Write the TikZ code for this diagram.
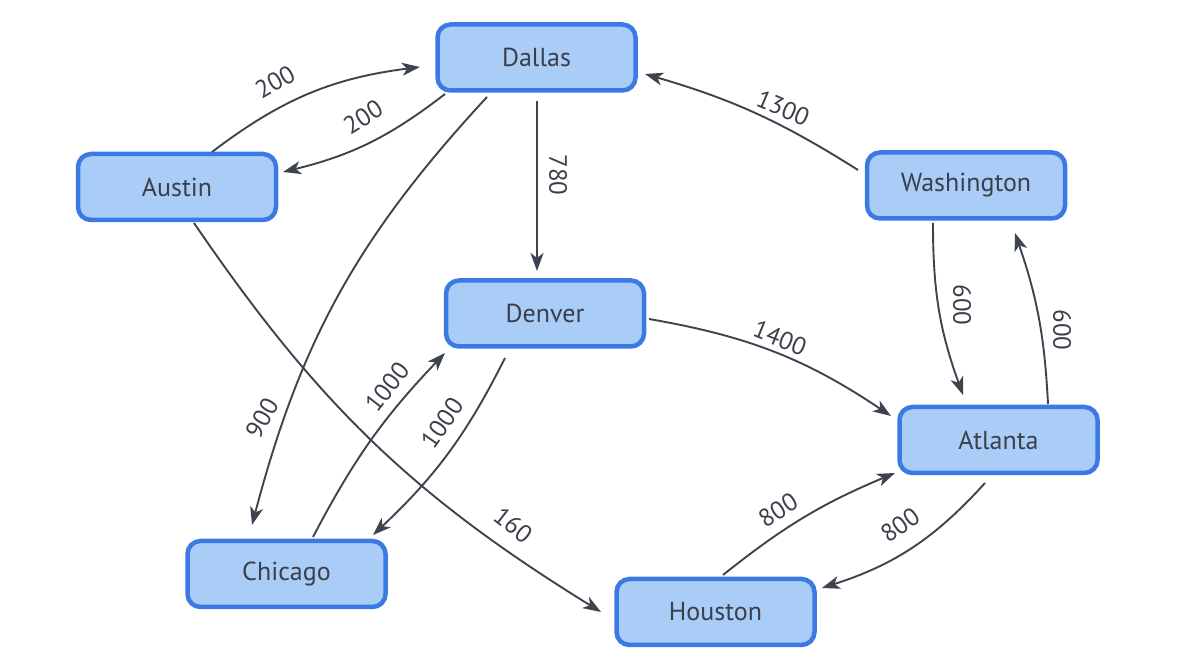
\documentclass[tikz,border=0pt]{standalone}
\usepackage{fontspec}
\setmainfont{PT Sans}
\usetikzlibrary{arrows.meta}
\definecolor{boxfill}{HTML}{A9CDF7}
\definecolor{boxline}{HTML}{3B79E3}
\definecolor{txt}{HTML}{3C3F4A}
\definecolor{edge}{HTML}{3E4350}
\tikzset{
  city/.style={draw=boxline, fill=boxfill, line width=4.5pt, rounded corners=13pt,
    minimum width=198pt, minimum height=66pt, inner sep=0pt, text=txt,
    font=\fontsize{26}{30}\selectfont},
  conn/.style={draw=edge, line width=1.9pt, -{Stealth[length=18pt,width=13pt,inset=5pt]}},
  lbl/.style={text=txt, inner sep=0pt, font=\fontsize{25}{30}\selectfont}
}
\begin{document}
\begin{tikzpicture}[x=1pt,y=1pt]
\useasboundingbox (0,0) rectangle (1178,666);
\node[city] (Dallas) at (536.5,608.5) {Dallas};
\node[city] (Austin) at (177,479) {Austin};
\node[city] (Washington) at (966,480.5) {Washington};
\node[city] (Denver) at (545,352.5) {Denver};
\node[city] (Atlanta) at (998.5,226) {Atlanta};
\node[city] (Chicago) at (286.5,92) {Chicago};
\node[city] (Houston) at (715.5,54) {Houston};

\draw[conn] ([shift={(35,35)}]Austin.center) to[bend left=15] ([shift={(-116.5,-9.5)}]Dallas.center);
\draw[conn] ([shift={(-91.5,-36.5)}]Dallas.center) to[bend left=12] ([shift={(106,15)}]Austin.center);
\draw[conn] ([shift={(-49.5,-39.5)}]Dallas.center) to[bend right=14] ([shift={(-34.5,49)}]Chicago.center);
\draw[conn] ([shift={(0.5,-43.5)}]Dallas.center) -- ([shift={(-8,42.5)}]Denver.center);
\draw[conn] ([shift={(-108,15.5)}]Washington.center) to[bend right=8] ([shift={(108.5,-16.5)}]Dallas.center);
\draw[conn] ([shift={(-33,-37.5)}]Washington.center) to[bend right=10] ([shift={(-35.5,45)}]Atlanta.center);
\draw[conn] ([shift={(49.5,36)}]Atlanta.center) to[bend right=8] ([shift={(49,-47.5)}]Washington.center);
\draw[conn] ([shift={(104,-5.5)}]Denver.center) to[bend left=12] ([shift={(-107.5,24)}]Atlanta.center);
\draw[conn] ([shift={(26.5,37)}]Chicago.center) to[bend left=8] ([shift={(-100,-39.5)}]Denver.center);
\draw[conn] ([shift={(-40,-44.5)}]Denver.center) to[bend left=10] ([shift={(86.5,39)}]Chicago.center);
\draw[conn] ([shift={(17,-36)}]Austin.center) to[bend right=12] ([shift={(-114.5,0)}]Houston.center);
\draw[conn] ([shift={(7.5,37)}]Houston.center) to[bend left=8] ([shift={(-103.5,-33)}]Atlanta.center);
\draw[conn] ([shift={(-13.5,-43)}]Atlanta.center) to[bend left=15] ([shift={(106.5,24)}]Houston.center);

\node[lbl, rotate=30] (l1) at (275,584) {200};
\node[lbl, rotate=32] (l2) at (363,549) {200};
\node[lbl, rotate=60] (l3) at (262,248) {900};
\node[lbl, rotate=-90] (l4) at (558,491) {780};
\node[lbl, rotate=-23] (l5) at (783,558) {1300};
\node[lbl, rotate=-90] (l6) at (962,361) {600};
\node[lbl, rotate=-90] (l7) at (1062,336) {600};
\node[lbl, rotate=-22] (l8) at (780,328) {1400};
\node[lbl, rotate=52] (l9) at (387,279) {1000};
\node[lbl, rotate=55] (l10) at (442,243) {1000};
\node[lbl, rotate=-38] (l11) at (513,141) {160};
\node[lbl, rotate=32] (l12) at (778,156) {800};
\node[lbl, rotate=35] (l13) at (900,141) {800};
\end{tikzpicture}
\end{document}
